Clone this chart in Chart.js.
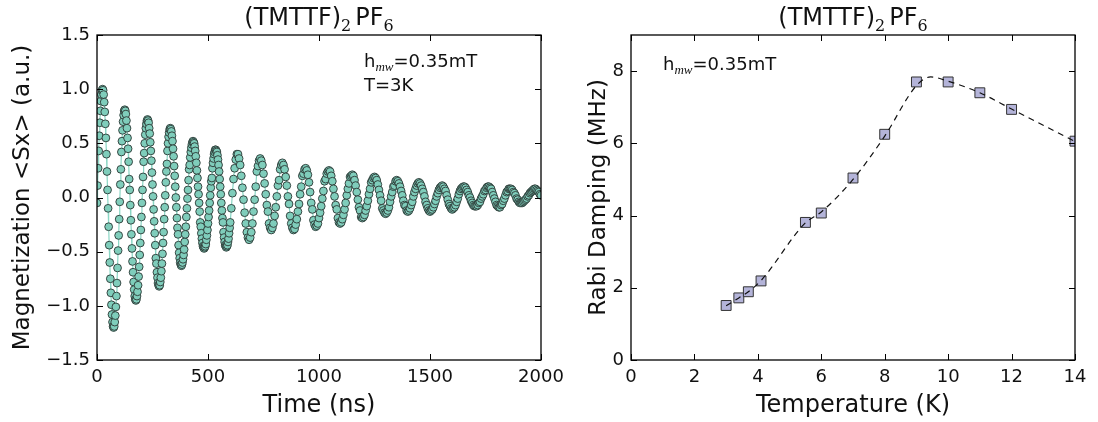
<!DOCTYPE html>
<html>
<head>
<meta charset="utf-8">
<script src="https://cdn.jsdelivr.net/npm/chart.js@4.4.0/dist/chart.umd.min.js"></script>
<style>
  html, body { margin: 0; padding: 0; background: #fff; }
  #wrap { position: relative; width: 1098px; height: 422px; }
  canvas { position: absolute; top: 0; }
</style>
</head>
<body>
<div id="wrap">
  <canvas id="damp" width="549" height="422" style="left:549px"></canvas>
  <canvas id="rabi" width="580" height="422" style="left:0"></canvas>
</div>
<script>
// Rabi trace: 2.5 ns samples up to 600 ns, then 5 ns samples
const earlyStep = 2.5;
const lateStart = 600;
const lateStep = 5;
const magEarly = [
  -0.05, 0.11, 0.27, 0.43, 0.57, 0.69, 0.80, 0.89, 0.95, 0.99, 1.00,
  0.99, 0.95, 0.88, 0.79, 0.68, 0.55, 0.40, 0.24, 0.07, -0.10, -0.27, -0.44, -0.60, -0.75, -0.88, -0.99, -1.08, -1.15, -1.19, -1.20,
  -1.19, -1.15, -1.09, -1.01, -0.91, -0.79, -0.65, -0.49, -0.35, -0.20, -0.04, 0.12, 0.26, 0.42, 0.52, 0.62, 0.70, 0.76, 0.80, 0.81,
  0.80, 0.77, 0.71, 0.64, 0.55, 0.45, 0.33, 0.17, 0.07, -0.07, -0.21, -0.34, -0.47, -0.59, -0.69, -0.78, -0.85, -0.91, -0.94, -0.95,
  -0.94, -0.91, -0.87, -0.81, -0.73, -0.64, -0.53, -0.42, -0.30, -0.18, -0.05, 0.07, 0.19, 0.33, 0.41, 0.50, 0.58, 0.64, 0.68, 0.71, 0.72,
  0.71, 0.69, 0.64, 0.59, 0.51, 0.43, 0.34, 0.23, 0.12, 0.01, -0.11, -0.22, -0.33, -0.44, -0.56, -0.61, -0.69, -0.74, -0.79, -0.81, -0.82,
  -0.81, -0.78, -0.74, -0.68, -0.61, -0.52, -0.42, -0.32, -0.20, -0.09, 0.02, 0.14, 0.24, 0.31, 0.43, 0.50, 0.56, 0.60, 0.63, 0.64,
  0.63, 0.61, 0.57, 0.52, 0.45, 0.38, 0.29, 0.20, 0.10, 0.00, -0.09, -0.19, -0.28, -0.34, -0.44, -0.51, -0.56, -0.60, -0.62, -0.63,
  -0.62, -0.60, -0.57, -0.53, -0.48, -0.41, -0.34, -0.27, -0.18, -0.10, -0.01, 0.07, 0.16, 0.26, 0.30, 0.37, 0.42, 0.46, 0.49, 0.51, 0.52,
  0.51, 0.50, 0.47, 0.43, 0.38, 0.32, 0.25, 0.18, 0.10, 0.03, -0.05, -0.13, -0.23, -0.27, -0.33, -0.38, -0.42, -0.45, -0.46, -0.47,
  -0.46, -0.45, -0.43, -0.39, -0.35, -0.30, -0.24, -0.18, -0.12, -0.05, 0.02, 0.09, 0.15, 0.18, 0.27, 0.32, 0.36, 0.40, 0.42, 0.44, 0.44,
  0.43, 0.42, 0.39, 0.35, 0.30, 0.24, 0.17, 0.10, 0.03, -0.05, -0.12, -0.19, -0.23, -0.32, -0.37, -0.41, -0.44, -0.45, -0.46,
  -0.45, -0.44, -0.41, -0.38, -0.33, -0.28
];
const magLate = [
  -0.23, -0.10, 0.04, 0.17, 0.27, 0.35, 0.40,
  0.40, 0.36, 0.30, 0.20, 0.09, -0.02, -0.14, -0.24, -0.32, -0.37, -0.39,
  -0.37, -0.32, -0.24, -0.13, -0.02, 0.10, 0.24, 0.29, 0.34, 0.36,
  0.34, 0.30, 0.22, 0.13, 0.03, -0.07, -0.13, -0.24, -0.28, -0.30,
  -0.28, -0.24, -0.17, -0.09, 0.01, 0.11, 0.16, 0.26, 0.30, 0.32,
  0.30, 0.26, 0.19, 0.11, 0.01, -0.06, -0.17, -0.24, -0.28, -0.30,
  -0.29, -0.25, -0.20, -0.13, -0.06, 0.03, 0.10, 0.20, 0.22, 0.26, 0.27,
  0.25, 0.21, 0.14, 0.05, -0.05, -0.11, -0.21, -0.25, -0.27,
  -0.26, -0.24, -0.19, -0.14, -0.08, -0.01, 0.06, 0.15, 0.17, 0.22, 0.24, 0.25,
  0.24, 0.20, 0.15, 0.08, 0.01, -0.07, -0.11, -0.19, -0.23, -0.24,
  -0.23, -0.20, -0.16, -0.11, -0.05, 0.02, 0.08, 0.13, 0.19, 0.20, 0.21,
  0.20, 0.16, 0.11, 0.05, -0.02, -0.09, -0.12, -0.18, -0.19,
  -0.18, -0.16, -0.12, -0.08, -0.03, 0.03, 0.08, 0.14, 0.16, 0.18, 0.19,
  0.18, 0.16, 0.12, 0.07, 0.02, -0.03, -0.10, -0.12, -0.14, -0.15,
  -0.14, -0.12, -0.09, -0.04, 0.01, 0.05, 0.10, 0.11, 0.15, 0.16,
  0.15, 0.13, 0.10, 0.06, 0.02, -0.03, -0.07, -0.08, -0.12, -0.13,
  -0.12, -0.10, -0.07, -0.04, 0.01, 0.05, 0.08, 0.11, 0.13, 0.14,
  0.13, 0.11, 0.08, 0.05, 0.01, -0.04, -0.07, -0.10, -0.12, -0.13,
  -0.12, -0.11, -0.09, -0.06, -0.03, 0.01, 0.04, 0.07, 0.09, 0.10, 0.11,
  0.10, 0.08, 0.06, 0.02, -0.02, -0.06, -0.08, -0.10, -0.11,
  -0.10, -0.09, -0.07, -0.04, -0.01, 0.03, 0.06, 0.08, 0.09, 0.10,
  0.10, 0.09, 0.07, 0.05, 0.02, 0.00, -0.03, -0.05, -0.07, -0.08, -0.08,
  -0.08, -0.07, -0.05, -0.04, -0.01, 0.01, 0.03, 0.06, 0.07, 0.09, 0.10, 0.10,
  0.09, 0.08, 0.05, 0.02, -0.01, -0.04, -0.07, -0.08, -0.09,
  -0.09, -0.07, -0.06, -0.03, -0.01, 0.02, 0.05, 0.06, 0.08, 0.08,
  0.08, 0.07, 0.05, 0.04, 0.02, -0.01, -0.02, -0.04, -0.05, -0.05,
  -0.05, -0.04, -0.03, -0.02, -0.01, 0.01, 0.02, 0.04, 0.05, 0.06, 0.07, 0.08, 0.08,
  0.07, 0.06, 0.05, 0.03, 0.02
];
const timeTicks = [0, 500, 1000, 1500, 2000];
const magTicks = [-1.5, -1, -0.5, 0, 0.5, 1, 1.5];

// damping vs temperature
const temps = [3, 3.4, 3.7, 4.1, 5.5, 6, 7, 8, 9, 10, 11, 12, 14];
const damping = [1.51, 1.72, 1.89, 2.19, 3.81, 4.07, 5.04, 6.25, 7.70, 7.70, 7.40, 6.94, 6.06];
const fitT = [3, 3.4, 3.7, 4.1, 5.5, 6, 7, 8, 9, 9.45, 10, 11, 12, 14];
const fitRate = [1.5, 1.72, 1.89, 2.2, 3.8, 4.1, 5.0, 6.2, 7.6, 7.84, 7.72, 7.4, 6.95, 6.05];
const tempTicks = [0, 2, 4, 6, 8, 10, 12, 14];
const dampTicks = [0, 2, 4, 6, 8];

const SANS = '"DejaVu Sans", sans-serif';
const INK = '#111';

function drawParts(ctx, parts, x, y, align) {
  let w = 0;
  parts.forEach(p => { ctx.font = p.font; w += ctx.measureText(p.text).width + (p.gap || 0); });
  let cx = align === 'center' ? x - w / 2 : x;
  ctx.textAlign = 'left';
  ctx.textBaseline = 'alphabetic';
  parts.forEach(p => {
    ctx.font = p.font;
    ctx.fillText(p.text, cx, y + (p.dy || 0));
    cx += ctx.measureText(p.text).width + (p.gap || 0);
  });
}

// inward ticks on all four sides, the box, title and notes
const frameTicks = {
  id: 'frameTicks',
  afterDraw(chart, args, opts) {
    const { ctx, chartArea: a } = chart;
    const xs = chart.scales.x, ys = chart.scales.y;
    ctx.save();
    ctx.strokeStyle = '#000';
    ctx.lineWidth = 1;
    ctx.beginPath();
    xs.ticks.forEach(t => {
      const px = Math.round(xs.getPixelForValue(t.value)) + 0.5;
      ctx.moveTo(px, a.bottom); ctx.lineTo(px, a.bottom - 6);
      ctx.moveTo(px, a.top); ctx.lineTo(px, a.top + 6);
    });
    ys.ticks.forEach(t => {
      const py = Math.round(ys.getPixelForValue(t.value)) + 0.5;
      ctx.moveTo(a.left, py); ctx.lineTo(a.left + 6, py);
      ctx.moveTo(a.right, py); ctx.lineTo(a.right - 6, py);
    });
    ctx.stroke();
    ctx.lineWidth = 1.3;
    ctx.strokeRect(a.left, a.top, a.right - a.left, a.bottom - a.top);
    ctx.fillStyle = INK;
    drawParts(ctx, opts.title, (a.left + a.right) / 2, 25, 'center');
    opts.notes.forEach(n => drawParts(ctx, n.parts, n.x, n.y, 'left'));
    ctx.restore();
  }
};

const titleParts = [
  { text: '(TMTTF)', font: '24px ' + SANS },
  { text: '2', font: '16px "DejaVu Serif"', dy: 6, gap: 4 },
  { text: 'PF', font: '24px ' + SANS },
  { text: '6', font: '16px "DejaVu Serif"', dy: 6 }
];
const hmwParts = [
  { text: 'h', font: '18px ' + SANS },
  { text: 'mw', font: 'italic 13px "Liberation Serif"', dy: 4 },
  { text: '=0.35mT', font: '18px ' + SANS }
];

function axisOpts(ticksArr, min, max, fit, title, titleSize, titlePad, fmt) {
  return {
    type: 'linear', min: min, max: max,
    afterBuildTicks: s => { s.ticks = ticksArr.map(v => ({ value: v })); },
    afterFit: s => {
      fit(s);
      // keep the plot box where the reference has it, labels may overhang
      s.paddingLeft = 0; s.paddingRight = 0; s.paddingTop = 0; s.paddingBottom = 0;
    },
    grid: { display: false, drawTicks: false },
    border: { display: false },
    ticks: { padding: 7, color: INK, autoSkip: false, maxRotation: 0, font: { family: SANS, size: 18 }, callback: fmt },
    title: { display: true, text: title, color: INK, font: { family: SANS, size: titleSize }, padding: titlePad }
  };
}

// left: magnetization trace
const rabiPoints = [];
magEarly.forEach((v, i) => rabiPoints.push({ x: i * earlyStep, y: v }));
magLate.forEach((v, i) => rabiPoints.push({ x: lateStart + i * lateStep, y: v }));

new Chart(document.getElementById('rabi'), {
  type: 'line',
  data: {
    datasets: [{
      data: rabiPoints,
      borderColor: '#8ad6c4',
      borderWidth: 1.2,
      pointRadius: 3.9,
      pointBackgroundColor: '#7fcdbb',
      pointBorderColor: '#2b3834',
      pointBorderWidth: 0.9,
      tension: 0
    }]
  },
  options: {
    responsive: false,
    animation: false,
    events: [],
    layout: { padding: { top: 35, right: 39, left: 0, bottom: 0 } },
    plugins: {
      legend: { display: false },
      tooltip: { enabled: false },
      frameTicks: {
        title: titleParts,
        notes: [
          { parts: hmwParts, x: 364, y: 67 },
          { parts: [{ text: 'T=3K', font: '18px ' + SANS }], x: 364, y: 91 }
        ]
      }
    },
    scales: {
      x: axisOpts(timeTicks, 0, 2000, s => { s.height = 62; }, 'Time (ns)', 24, { top: 0, bottom: 2 }, v => String(v)),
      y: axisOpts(magTicks, -1.5, 1.5, s => { s.width = 97; }, 'Magnetization <Sx> (a.u.)', 23, { top: 9, bottom: 0 },
        v => (v < 0 ? '\u2212' : '') + Math.abs(v).toFixed(1))
    }
  },
  plugins: [frameTicks]
});

// right: damping rate vs temperature
new Chart(document.getElementById('damp'), {
  type: 'line',
  data: {
    datasets: [
      {
        data: fitT.map((t, i) => ({ x: t, y: fitRate[i] })),
        borderColor: '#111',
        borderWidth: 1.2,
        borderDash: [6, 5],
        pointRadius: 0,
        cubicInterpolationMode: 'monotone'
      },
      {
        data: temps.map((t, i) => ({ x: t, y: damping[i] })),
        showLine: false,
        pointStyle: 'rect',
        pointRadius: 7,
        pointBackgroundColor: '#b4b4d9',
        pointBorderColor: '#333',
        pointBorderWidth: 1
      }
    ]
  },
  options: {
    responsive: false,
    animation: false,
    events: [],
    layout: { padding: { top: 35, right: 23, left: 0, bottom: 0 } },
    plugins: {
      legend: { display: false },
      tooltip: { enabled: false },
      frameTicks: {
        title: titleParts,
        notes: [{ parts: hmwParts, x: 114, y: 70 }]
      }
    },
    scales: {
      x: axisOpts(tempTicks, 0, 14, s => { s.height = 62; }, 'Temperature (K)', 24, { top: 0, bottom: 2 }, v => String(v)),
      y: axisOpts(dampTicks, 0, 9, s => { s.width = 82; }, 'Rabi Damping (MHz)', 23, { top: 36, bottom: 0 }, v => String(v))
    }
  },
  plugins: [frameTicks]
});
</script>
</body>
</html>
